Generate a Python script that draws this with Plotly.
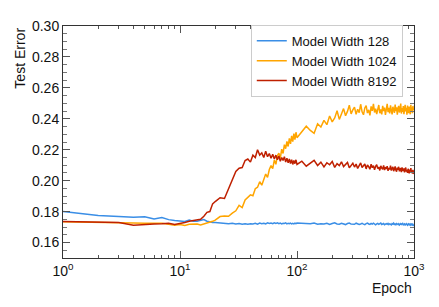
import plotly.graph_objects as go

# Sampling grid of epochs
epochs = list(range(1, 21)) + list(range(22, 101, 2)) + list(range(110, 1001, 10))

width128 = [
    0.1800, 0.1775, 0.1768, 0.1763, 0.1766, 0.1752, 0.1762, 0.1748, 0.1742, 0.1738,
    0.1736, 0.1745, 0.1738, 0.1737, 0.1742, 0.1748, 0.1738, 0.1733, 0.1729, 0.1730,
    0.1727, 0.1724, 0.1721, 0.1725, 0.1720, 0.1723, 0.1719, 0.1722, 0.1718, 0.1721,
    0.1720, 0.1724, 0.1719, 0.1726, 0.1722, 0.1725, 0.1721, 0.1727, 0.1723, 0.1726,
    0.1722, 0.1728, 0.1724, 0.1727, 0.1722, 0.1726, 0.1721, 0.1725, 0.1723, 0.1727,
    0.1721, 0.1725, 0.1722, 0.1726, 0.1720, 0.1724, 0.1721, 0.1725, 0.1722, 0.1726,
    0.1724, 0.1719, 0.1721, 0.1726, 0.1718, 0.1722, 0.1720, 0.1725, 0.1717, 0.1723,
    0.1727, 0.1720, 0.1718, 0.1724, 0.1721, 0.1716, 0.1723, 0.1726, 0.1719, 0.1721,
    0.1718, 0.1725, 0.1722, 0.1717, 0.1720, 0.1724, 0.1719, 0.1716, 0.1722, 0.1726,
    0.1720, 0.1717, 0.1723, 0.1719, 0.1725, 0.1721, 0.1715, 0.1720, 0.1724, 0.1718,
    0.1721, 0.1726, 0.1717, 0.1719, 0.1723, 0.1715, 0.1720, 0.1722, 0.1718, 0.1724,
    0.1716, 0.1721, 0.1719, 0.1714, 0.1722, 0.1718, 0.1725, 0.1717, 0.1720, 0.1715,
    0.1723, 0.1719, 0.1716, 0.1721, 0.1713, 0.1718, 0.1722, 0.1717, 0.1720, 0.1724,
    0.1715, 0.1719, 0.1721, 0.1714, 0.1718, 0.1722, 0.1716, 0.1712, 0.1719, 0.1721,
    0.1715, 0.1718, 0.1713, 0.1720, 0.1716, 0.1722, 0.1714, 0.1717, 0.1712, 0.1716,
]

width1024 = [
    0.1735, 0.1733, 0.1731, 0.1727, 0.1725, 0.1724, 0.1724, 0.1718, 0.1712, 0.1716,
    0.1711, 0.1718, 0.1719, 0.1720, 0.1713, 0.1719, 0.1722, 0.1730, 0.1737, 0.1745,
    0.1768, 0.1772, 0.1770, 0.1790, 0.1805, 0.1840, 0.1826, 0.1875, 0.1893, 0.1908,
    0.1902, 0.1948, 0.1958, 0.1993, 0.1971, 0.2012, 0.2043, 0.2021, 0.2072, 0.2097,
    0.2078, 0.2133, 0.2106, 0.2163, 0.2177, 0.2146, 0.2204, 0.2176, 0.2233, 0.2207,
    0.2254, 0.2221, 0.2273, 0.2238, 0.2289, 0.2252, 0.2304, 0.2266, 0.2313, 0.2278,
    0.2318, 0.2352, 0.2325, 0.2306, 0.2368, 0.2347, 0.2390, 0.2362, 0.2418, 0.2380,
    0.2405, 0.2452, 0.2396, 0.2430, 0.2466, 0.2420, 0.2448, 0.2488, 0.2432, 0.2458,
    0.2476, 0.2429, 0.2462, 0.2440, 0.2494, 0.2445, 0.2426, 0.2470, 0.2485, 0.2437,
    0.2458, 0.2422, 0.2480, 0.2452, 0.2497, 0.2441, 0.2466, 0.2431, 0.2475, 0.2489,
    0.2436, 0.2461, 0.2428, 0.2484, 0.2450, 0.2472, 0.2425, 0.2458, 0.2496, 0.2443,
    0.2470, 0.2435, 0.2487, 0.2455, 0.2429, 0.2478, 0.2462, 0.2438, 0.2492, 0.2450,
    0.2474, 0.2427, 0.2465, 0.2484, 0.2441, 0.2457, 0.2499, 0.2434, 0.2469, 0.2445,
    0.2482, 0.2430, 0.2460, 0.2490, 0.2448, 0.2471, 0.2426, 0.2486, 0.2452, 0.2437,
    0.2479, 0.2463, 0.2429, 0.2491, 0.2447, 0.2474, 0.2436, 0.2483, 0.2456, 0.2466,
]

width8192 = [
    0.1736, 0.1733, 0.1730, 0.1712, 0.1718, 0.1720, 0.1721, 0.1724, 0.1716, 0.1726,
    0.1730, 0.1738, 0.1743, 0.1745, 0.1750, 0.1770, 0.1795, 0.1800, 0.1850, 0.1865,
    0.1890, 0.1885, 0.1950, 0.2000, 0.2060, 0.2080, 0.2085, 0.2130, 0.2140, 0.2120,
    0.2165, 0.2150, 0.2200, 0.2165, 0.2180, 0.2150, 0.2190, 0.2155, 0.2175, 0.2145,
    0.2170, 0.2140, 0.2165, 0.2135, 0.2160, 0.2125, 0.2150, 0.2130, 0.2155, 0.2120,
    0.2145, 0.2115, 0.2140, 0.2110, 0.2135, 0.2105, 0.2130, 0.2110, 0.2135, 0.2105,
    0.2126, 0.2094, 0.2112, 0.2131, 0.2098, 0.2120, 0.2089, 0.2116, 0.2103, 0.2124,
    0.2086, 0.2110, 0.2097, 0.2122, 0.2091, 0.2105, 0.2118, 0.2083, 0.2101, 0.2113,
    0.2088, 0.2107, 0.2079, 0.2099, 0.2115, 0.2085, 0.2095, 0.2108, 0.2076, 0.2102,
    0.2090, 0.2074, 0.2106, 0.2084, 0.2097, 0.2070, 0.2093, 0.2104, 0.2078, 0.2088,
    0.2066, 0.2096, 0.2081, 0.2073, 0.2099, 0.2068, 0.2087, 0.2077, 0.2094, 0.2063,
    0.2083, 0.2072, 0.2097, 0.2065, 0.2080, 0.2089, 0.2061, 0.2076, 0.2092, 0.2067,
    0.2058, 0.2084, 0.2071, 0.2090, 0.2060, 0.2075, 0.2081, 0.2055, 0.2086, 0.2069,
    0.2063, 0.2079, 0.2053, 0.2074, 0.2085, 0.2058, 0.2068, 0.2050, 0.2077, 0.2064,
    0.2047, 0.2072, 0.2059, 0.2081, 0.2052, 0.2066, 0.2045, 0.2070, 0.2056, 0.2043,
]

series_names = ["Model Width 128", "Model Width 1024", "Model Width 8192"]
series_colors = ["#3A8EE6", "#FFA500", "#BF2000"]

x_tickvals = [1, 10, 100, 1000]
x_ticktext = ["10<sup>0</sup>", "10<sup>1</sup>", "10<sup>2</sup>", "10<sup>3</sup>"]
x_minor_tickvals = [2, 3, 4, 5, 6, 7, 8, 9,
                    20, 30, 40, 50, 60, 70, 80, 90,
                    200, 300, 400, 500, 600, 700, 800, 900]

font_family = "Liberation Sans, Arial, sans-serif"

fig = go.Figure()
for name, vals, col in zip(series_names, [width128, width1024, width8192], series_colors):
    fig.add_trace(go.Scatter(x=epochs, y=vals, mode="lines", name=name,
                             line=dict(color=col, width=1.5)))

axis_common = dict(
    showline=True, linecolor="#333333", linewidth=1, mirror="ticks",
    ticks="inside", ticklen=7, tickcolor="#555555", tickwidth=1,
    showgrid=False, zeroline=False,
    tickfont=dict(size=14, color="#111111", family=font_family),
)

fig.update_xaxes(
    type="log", range=[0, 3], tickmode="array", tickvals=x_tickvals, ticktext=x_ticktext,
    minor=dict(ticks="inside", ticklen=3, tickcolor="#555555", showgrid=False,
               tickmode="array", tickvals=x_minor_tickvals),
    **axis_common,
)
fig.update_yaxes(
    range=[0.15, 0.30], dtick=0.02, tick0=0.0, tickformat=".2f",
    minor=dict(ticks="inside", ticklen=4, dtick=0.005, tickcolor="#777777", showgrid=False),
    **axis_common,
)

# page body has an 8px default margin; size the figure so the plot area lands right
fig.update_layout(
    width=431, height=299,
    margin=dict(l=55, r=25, t=10, b=49),
    paper_bgcolor="white", plot_bgcolor="white",
    font=dict(family=font_family, size=14, color="#111111"),
    showlegend=True,
    legend=dict(
        x=0.535, y=1.005, xanchor="left", yanchor="top",
        bgcolor="white", bordercolor="#CCCCCC", borderwidth=1,
        font=dict(size=13, family=font_family, color="#111111"),
        itemwidth=30, tracegroupgap=0,
    ),
    annotations=[
        dict(text="Test Error", xref="paper", yref="paper", x=-0.125, y=1.0,
             xanchor="center", yanchor="top", textangle=-90, showarrow=False,
             font=dict(size=14, family=font_family, color="#111111")),
        dict(text="Epoch", xref="paper", yref="paper", x=1.0, y=-0.085,
             xanchor="right", yanchor="top", showarrow=False,
             font=dict(size=14, family=font_family, color="#111111")),
    ],
)

fig.write_html("out.html")
